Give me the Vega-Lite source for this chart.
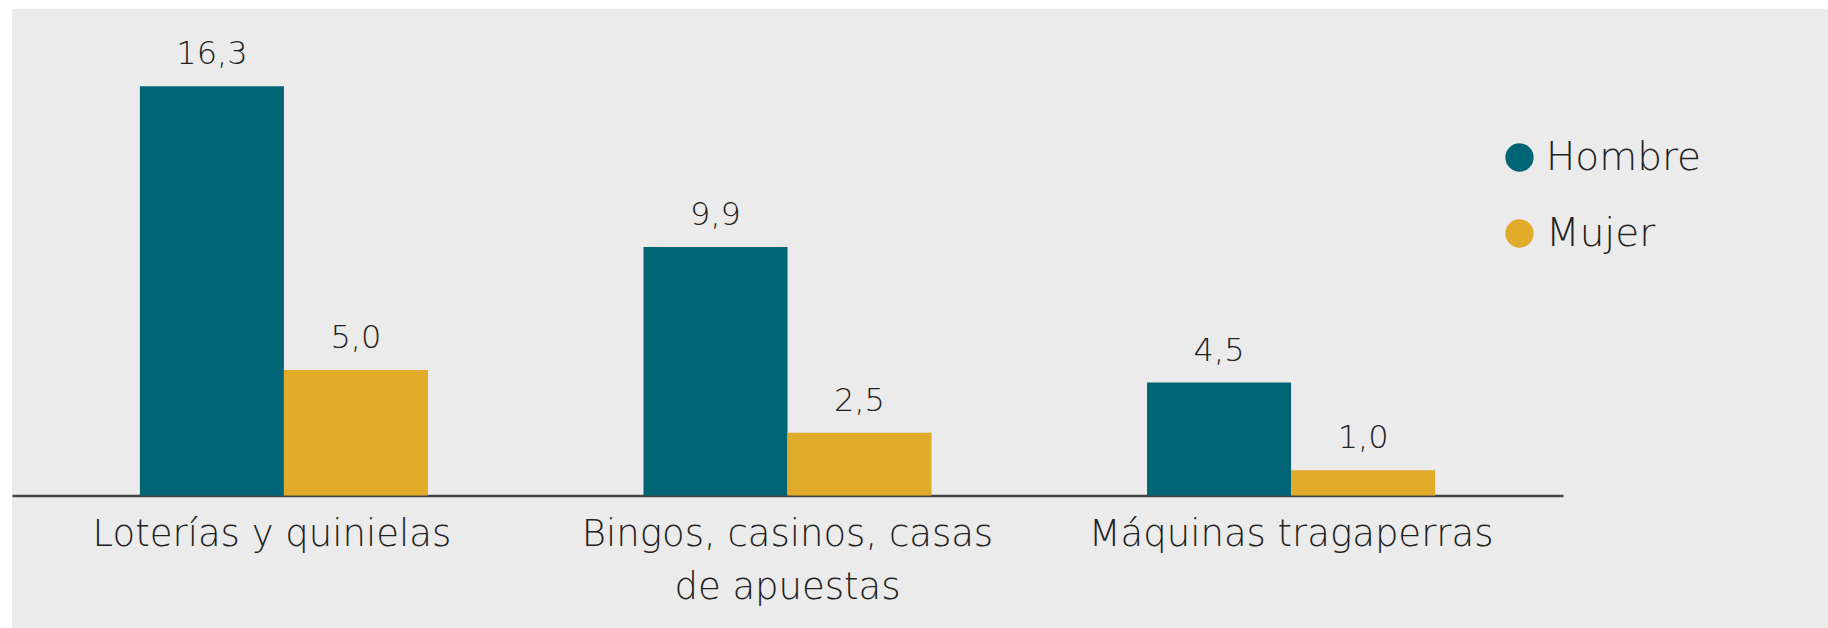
{
  "$schema": "https://vega.github.io/schema/vega-lite/v6.json",
  "width": 1828,
  "height": 628,
  "autosize": {"type": "fit", "contains": "padding"},
  "padding": {"left": 12, "top": 9, "right": 0, "bottom": 0},
  "background": "white",
  "config": {
    "view": {"fill": "#ebebeb", "stroke": null},
    "locale": {"number": {"decimal": ",", "thousands": ".", "grouping": [3], "currency": ["", " €"]}},
    "font": "DejaVu Sans"
  },
  "data": {
    "values": [
      {"juego": "Loterías y quinielas", "sexo": "Hombre", "valor": 16.3},
      {"juego": "Loterías y quinielas", "sexo": "Mujer", "valor": 5.0},
      {"juego": "Bingos, casinos, casas de apuestas", "sexo": "Hombre", "valor": 9.9},
      {"juego": "Bingos, casinos, casas de apuestas", "sexo": "Mujer", "valor": 2.5},
      {"juego": "Máquinas tragaperras", "sexo": "Hombre", "valor": 4.5},
      {"juego": "Máquinas tragaperras", "sexo": "Mujer", "valor": 1.0}
    ]
  },
  "encoding": {
    "x": {
      "field": "juego",
      "type": "nominal",
      "sort": null,
      "scale": {"range": [0, 1551], "paddingInner": 0.428, "paddingOuter": 0.254},
      "axis": {
        "orient": "bottom",
        "offset": -132.5,
        "title": null,
        "labelAngle": 0,
        "ticks": false,
        "domainColor": "#444444",
        "domainWidth": 2.5,
        "labelFontSize": 37,
        "labelFontWeight": 200,
        "labelColor": "#222222",
        "labelPadding": 21,
        "labelLimit": 0,
        "labelLineHeight": 53,
        "labelOffset": {"condition": {"test": "datum.value == 'Loterías y quinielas'", "value": -12}, "value": 0},
        "labelExpr": "datum.label == 'Bingos, casinos, casas de apuestas' ? ['Bingos, casinos, casas', 'de apuestas'] : datum.label"
      }
    },
    "xOffset": {"field": "sexo", "type": "nominal", "sort": ["Hombre", "Mujer"], "scale": {"paddingInner": 0, "paddingOuter": 0}},
    "y": {
      "field": "valor",
      "type": "quantitative",
      "scale": {"domain": [-5.28, 19.38], "nice": false},
      "axis": null
    }
  },
  "layer": [
    {
      "mark": {"type": "bar"},
      "encoding": {
        "color": {
          "field": "sexo",
          "type": "nominal",
          "sort": ["Hombre", "Mujer"],
          "scale": {"domain": ["Hombre", "Mujer"], "range": ["#006477", "#e0ab28"]},
          "legend": {
            "orient": "none",
            "legendX": 1488,
            "legendY": 129,
            "title": null,
            "symbolType": "circle",
            "symbolSize": 800,
            "symbolStrokeWidth": 0,
            "labelFontSize": 39,
            "labelFontWeight": 200,
            "labelColor": "#222222",
            "labelOffset": 7,
            "rowPadding": 36
          }
        }
      }
    },
    {
      "mark": {"type": "text", "baseline": "alphabetic", "dy": -22, "fontSize": 32, "fontWeight": 200, "color": "#222222"},
      "encoding": {
        "text": {"field": "valor", "type": "quantitative", "format": ".1f"}
      }
    }
  ]
}
